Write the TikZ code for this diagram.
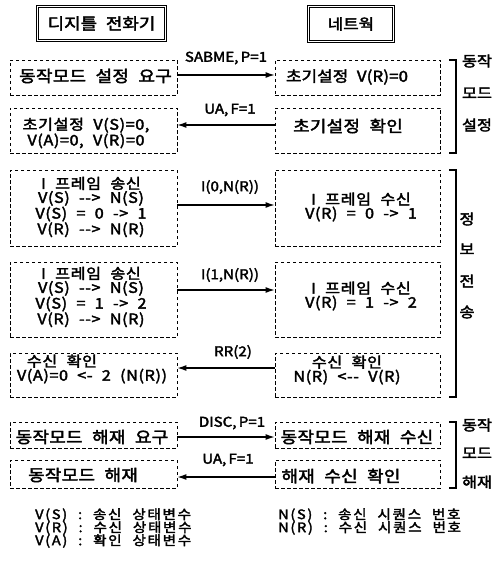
\documentclass[tikz,border=0pt]{standalone}
\usepackage{fontspec}
\setmainfont{Noto Sans CJK KR}[WordSpace=2.2,FakeBold=2.5,FakeStretch=1.12]
\usetikzlibrary{arrows.meta}
\begin{document}
\begin{tikzpicture}[x=1pt,y=-1pt,
  box/.style={draw, line width=0.8pt, dash pattern=on 3.5pt off 2.5pt, inner sep=0pt},
  txt/.style={inner sep=0pt, align=center, font=\fontsize{16}{17}\selectfont\addfontfeature{LetterSpace=2}},
  small/.style={inner sep=0pt, align=center, font=\fontsize{14.5}{12.8}\selectfont\addfontfeature{LetterSpace=4}},
  lab/.style={inner sep=0pt, font=\fontsize{13.5}{14}\selectfont},
  leg/.style={inner sep=0pt, anchor=west, font=\fontsize{13}{13}\selectfont\addfontfeature{LetterSpace=13}},
  side/.style={inner sep=0pt, font=\fontsize{14.5}{15}\selectfont},
  arr/.style={line width=1.2pt, -{Latex[length=9pt,width=6pt]}},
  brk/.style={line width=1.5pt},
  title/.style={draw, double, line width=0.8pt, double distance=1.6pt, inner sep=0pt},
]
\useasboundingbox (0,0) rectangle (500,564);

% titles
\node[title, minimum width=128pt, minimum height=34pt, font=\fontsize{16}{17}\selectfont] (t1) at (101.5,23.5) {디지틀 전화기};
\node[title, minimum width=85pt, minimum height=35pt, font=\fontsize{15}{16}\selectfont] (t2) at (351,24) {네트웍};

% boxes
\node[box, minimum width=167pt, minimum height=35pt] (l1) at (93.5,77.5) {};
\node[box, minimum width=165pt, minimum height=35pt] (r1) at (357.5,77.5) {};
\node[box, minimum width=167pt, minimum height=45pt] (l2) at (93.5,130.5) {};
\node[box, minimum width=165pt, minimum height=45pt] (r2) at (357.5,130.5) {};
\node[box, minimum width=167pt, minimum height=76pt] (l3) at (93.5,208) {};
\node[box, minimum width=165pt, minimum height=76pt] (r3) at (357.5,208) {};
\node[box, minimum width=167pt, minimum height=75pt] (l4) at (93.5,299.5) {};
\node[box, minimum width=165pt, minimum height=75pt] (r4) at (357.5,299.5) {};
\node[box, minimum width=167pt, minimum height=44pt] (l5) at (93.5,375) {};
\node[box, minimum width=165pt, minimum height=44pt] (r5) at (357.5,375) {};
\node[box, minimum width=167pt, minimum height=26pt] (l6) at (93.5,435) {};
\node[box, minimum width=165pt, minimum height=26pt] (r6) at (357.5,435) {};
\node[box, minimum width=167pt, minimum height=28pt] (l7) at (93.5,474) {};
\node[box, minimum width=165pt, minimum height=28pt] (r7) at (357.5,474) {};

% box texts
\node[txt] (l1t) at (95.5,76) {동작모드 설정 요구};
\node[txt, font=\fontsize{15}{16}\selectfont\addfontfeature{LetterSpace=1}] (r1t) at (347,77) {초기설정 V(R)=0};
\node[small] (l2t) at (86,133) {초기설정 V(S)=0,\\V(A)=0, V(R)=0};
\node[txt] (r2t) at (348,126) {초기설정 확인};
\node[small] (l3t) at (91,207) {I 프레임 송신\\V(S) -{}-> N(S)\\V(S) = 0 -> 1\\V(R) -{}-> N(R)};
\node[small] (r3t) at (361,207) {I 프레임 수신\\V(R) = 0 -> 1};
\node[small, font=\fontsize{14.5}{11.8}\selectfont\addfontfeature{LetterSpace=4}] (l4t) at (91,297) {I 프레임 송신\\V(S) -{}-> N(S)\\V(S) = 1 -> 2\\V(R) -{}-> N(R)};
\node[small] (r4t) at (361,296) {I 프레임 수신\\V(R) = 1 -> 2};
\node[small] (l5t) at (92,369) {\hspace*{-60pt}수신 확인\\V(A)=0 <- 2 (N(R))};
\node[small] (r5t) at (347,370) {수신 확인\\N(R) <-{}- V(R)};
\node[txt] (l6t) at (92,437) {동작모드 해재 요구};
\node[txt] (r6t) at (357,437) {동작모드 해재 수신};
\node[txt] (l7t) at (83,475) {동작모드 해재};
\node[txt] (r7t) at (341,476) {해재 수신 확인};

% arrows
\draw[arr] ([yshift=2.5pt]l1.east) -- ([yshift=2.5pt]r1.west);
\draw[arr] ([yshift=5.5pt]r2.west) -- ([yshift=5.5pt]l2.east);
\draw[arr] ([yshift=3pt]l3.east) -- ([yshift=3pt]r3.west);
\draw[arr] ([yshift=9.5pt]l4.east) -- ([yshift=9.5pt]r4.west);
\draw[arr] ([yshift=7pt]r5.west) -- ([yshift=7pt]l5.east);
\draw[arr] ([yshift=-2pt]l6.east) -- ([yshift=-2pt]r6.west);
\draw[arr] ([yshift=-3pt]r7.west) -- ([yshift=-3pt]l7.east);

% arrow labels
\node[lab] (a1) at (226,58) {SABME,\,P=1};
\node[lab] (a2) at (230,110) {UA,\,F=1};
\node[lab] (a3) at (230,187) {I(0,N(R))};
\node[lab] (a4) at (230,275) {I(1,N(R))};
\node[lab] (a5) at (233,352) {RR(2)};
\node[lab] (a6) at (232,423) {DISC,\,P=1};
\node[lab] (a7) at (228,460) {UA,\,F=1};

% brackets
\draw[brk] (449,60) -- (456,60) -- (456,153) -- (449,153);
\draw[brk] (449,170) -- (456,170) -- (456,397) -- (449,397);
\draw[brk] (449,422) -- (456,422) -- (456,488) -- (449,488);
\node[side] (g1a) at (477,61) {동작};
\node[side] (g1b) at (477,93) {모드};
\node[side] (g1c) at (477,125) {설정};
\node[side] (g2a) at (467,219) {정};
\node[side] (g2b) at (467,249) {보};
\node[side] (g2c) at (467,281) {전};
\node[side] (g2d) at (467,312) {송};
\node[side] (g3a) at (477,425) {동작};
\node[side] (g3b) at (477,453) {모드};
\node[side] (g3c) at (477,482) {해재};

% legend
\node[leg] (lg1) at (35,515) {V(S) : 송신 상태변수};
\node[leg] (lg2) at (35,528) {V(R) : 수신 상태변수};
\node[leg] (lg3) at (35,541) {V(A) : 확인 상태변수};
\node[leg] (lg4) at (278,515) {N(S) : 송신 시퀀스 번호};
\node[leg] (lg5) at (278,528) {N(R) : 수신 시퀀스 번호};
\end{tikzpicture}
\end{document}
